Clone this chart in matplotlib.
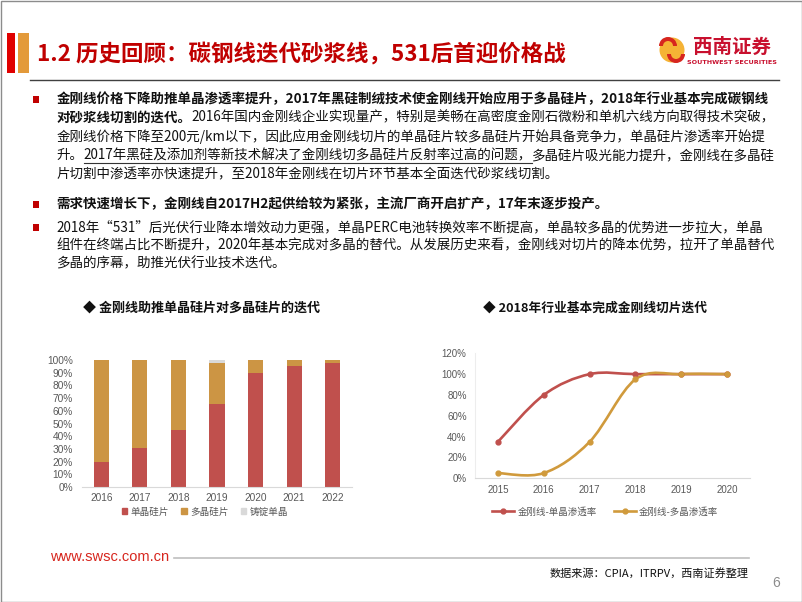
import numpy as np
import matplotlib
matplotlib.use("Agg")
import matplotlib.pyplot as plt
from matplotlib.path import Path
from matplotlib.patches import PathPatch, Rectangle, Circle, Wedge, Patch
from matplotlib.lines import Line2D

CJK = ['Noto Sans CJK SC', 'DejaVu Sans']
plt.rcParams['font.family'] = CJK

# bar chart data (share of wafer type)
bar_years = ['2016', '2017', '2018', '2019', '2020', '2021', '2022']
mono = [20, 31, 45, 65, 90, 95, 98]
multi = [80, 69, 55, 33, 10, 5, 2]
cast = [0, 0, 0, 2, 0, 0, 0]
bar_labels = ['单晶硅片', '多晶硅片', '铸锭单晶']

# line chart data (diamond wire penetration)
line_years = ['2015', '2016', '2017', '2018', '2019', '2020']
pen_mono = [35, 80, 100, 100, 100, 100]
pen_multi = [5, 5, 35, 95, 100, 100]
line_labels = ['金刚线-单晶渗透率', '金刚线-多晶渗透率']

RED = '#C0504D'
GOLD = '#CC9544'
GOLD_LINE = '#D09A3C'
GRAY = '#D9D9D9'
TICK = '#595959'
DARKRED = '#C00000'

fig = plt.figure(figsize=(8.02, 6.02), dpi=100)
fig.patch.set_facecolor('white')

# overlay in pixel coordinates
ov = fig.add_axes([0, 0, 1, 1])
ov.set_xlim(0, 802)
ov.set_ylim(602, 0)
ov.axis('off')

# outer frame
ov.add_patch(Rectangle((0.5, 0.5), 801, 601, fill=False, ec='#8C8C8C', lw=1))

# title bars + title
ov.add_patch(Rectangle((7, 33), 8, 40, color='#E00000', lw=0))
ov.add_patch(Rectangle((18, 33), 11, 40, color='#E39A3A', lw=0))
ov.text(37, 54, '1.2 历史回顾：碳钢线迭代砂浆线，531后首迎价格战', fontsize=16.2,
        weight='bold', color=DARKRED, va='center', ha='left')
ov.plot([30, 779], [80, 80], color='#404040', lw=1)

# logo
ov.add_patch(Circle((672, 50), 12.5, color='#F5B335', lw=0))
ov.add_patch(Wedge((668, 46), 9, 180, 360, width=4, color='#D7261E', lw=0))
ov.add_patch(Wedge((676, 54), 9, 0, 180, width=4, color='#D7261E', lw=0))
ov.text(732, 47, '西南证券', fontsize=14, weight='bold', color='#C8102E',
        ha='center', va='center')
ov.text(732, 63, 'SOUTHWEST SECURITIES', fontsize=4.6, weight='bold',
        color='#C8102E', ha='center', va='center', family='DejaVu Sans')

fig.canvas.draw()
rend = fig.canvas.get_renderer()

FS = 9.72
TX = 56.5


def runs(y, parts):
    x = TX
    for s, bold, ul in parts:
        t = ov.text(x, y, s, fontsize=FS, weight='bold' if bold else 'normal',
                    color='#111111', va='center', ha='left')
        bb = t.get_window_extent(renderer=rend)
        if ul:
            ov.plot([x, x + bb.width], [y + 8, y + 8], color='#333333', lw=0.8)
        x += bb.width


def bullet(y):
    ov.add_patch(Rectangle((32.5, y - 3.5), 6, 7, color=DARKRED, lw=0))


bullet(99)
runs(99, [('金刚线价格下降助推单晶渗透率提升，2017年黑硅制绒技术使金刚线开始应用于多晶硅片，2018年行业基本完成碳钢线', True, False)])
runs(117.8, [('对砂浆线切割的迭代。', True, False),
             ('2016年国内金刚线企业实现量产，特别是美畅在高密度金刚石微粉和单机六线方向取得技术突破，', False, False)])
runs(136.6, [('金刚线价格下降至200元/km以下，因此应用金刚线切片的单晶硅片较多晶硅片开始具备竞争力，单晶硅片渗透率开始提', False, False)])
runs(155.4, [('升。', False, False),
             ('2017年黑硅及添加剂等新技术解决了金刚线切多晶硅片反射率过高的问题，', False, True),
             ('多晶硅片吸光能力提升，金刚线在多晶硅', False, False)])
runs(174.2, [('片切割中渗透率亦快速提升，至2018年金刚线在切片环节基本全面迭代砂浆线切割。', False, False)])

bullet(204)
runs(204, [('需求快速增长下，金刚线自2017H2起供给较为紧张，主流厂商开启扩产，17年末逐步投产。', True, False)])

bullet(227)
runs(227, [('2018年“531”后光伏行业降本增效动力更强，单晶PERC电池转换效率不断提高，单晶较多晶的优势进一步拉大，单晶', False, False)])
runs(245, [('组件在终端占比不断提升，2020年基本完成对多晶的替代。从发展历史来看，金刚线对切片的降本优势，拉开了单晶替代', False, False)])
runs(263, [('多晶的序幕，助推光伏行业技术迭代。', False, False)])

# chart titles
ov.text(83, 308, '◆ 金刚线助推单晶硅片对多晶硅片的迭代', fontsize=9.4, weight='bold',
        color='#111111', va='center', ha='left')
ov.text(483, 308, '◆ 2018年行业基本完成金刚线切片迭代', fontsize=9.2, weight='bold',
        color='#111111', va='center', ha='left')

# footer
ov.text(50, 557, 'www.swsc.com.cn', fontsize=10.5, color='#D7261E', va='center',
        ha='left', family='Liberation Sans')
ov.plot([174, 749], [558, 558], color='#BFBFBF', lw=1.2)
ov.text(749, 573, '数据来源：CPIA，ITRPV，西南证券整理', fontsize=8, style='italic',
        color='#111111', va='center', ha='right')
ov.text(776, 583, '6', fontsize=10, color='#8C8C8C', va='center', ha='center',
        family='Liberation Sans')


def px_axes(l, t, r, b):
    return [l / 802, 1 - b / 602, (r - l) / 802, (b - t) / 602]


# ---- stacked bar chart
ax1 = fig.add_axes(px_axes(82, 360, 352, 487))
ax1.patch.set_alpha(0)
xb = np.arange(len(bar_years))
ax1.bar(xb, mono, 0.39, color=RED, label=bar_labels[0])
ax1.bar(xb, multi, 0.39, bottom=mono, color=GOLD, label=bar_labels[1])
ax1.bar(xb, cast, 0.39, bottom=np.add(mono, multi), color=GRAY, label=bar_labels[2])
ax1.set_xlim(-0.5, 6.5)
ax1.set_ylim(0, 100)
ax1.set_yticks(range(0, 101, 10))
ax1.set_yticklabels([f'{v}%' for v in range(0, 101, 10)])
ax1.set_xticks(xb)
ax1.set_xticklabels(bar_years)
for s in ['top', 'right', 'left']:
    ax1.spines[s].set_visible(False)
ax1.spines['bottom'].set_color(GRAY)
ax1.tick_params(length=0, colors=TICK, labelsize=7.3)
ax1.tick_params(axis='y', pad=6.5)
ax1.tick_params(axis='x', pad=4.5)
for lab in ax1.get_xticklabels() + ax1.get_yticklabels():
    lab.set_family('Liberation Sans')
hb = [Patch(color=c) for c in (RED, GOLD, GRAY)]
fig.legend(hb, bar_labels, loc='center', bbox_to_anchor=(205 / 802, 1 - 512 / 602),
           ncol=3, frameon=False, fontsize=6.9, handlelength=0.55, handleheight=0.55,
           handletextpad=0.35, columnspacing=1.3, labelcolor=TICK)


# ---- line chart
def smooth(xs, ys):
    pts = list(zip(xs, ys))
    n = len(pts)
    verts = [pts[0]]
    codes = [Path.MOVETO]
    for i in range(n - 1):
        p0 = pts[max(i - 1, 0)]
        p1 = pts[i]
        p2 = pts[i + 1]
        p3 = pts[min(i + 2, n - 1)]
        c1 = (p1[0] + (p2[0] - p0[0]) / 6, p1[1] + (p2[1] - p0[1]) / 6)
        c2 = (p2[0] - (p3[0] - p1[0]) / 6, p2[1] - (p3[1] - p1[1]) / 6)
        verts += [c1, c2, p2]
        codes += [Path.CURVE4] * 3
    return Path(verts, codes)


ax2 = fig.add_axes(px_axes(475, 353.3, 750, 478.3))
ax2.patch.set_alpha(0)
xl = np.arange(len(line_years))
for ys, c in ((pen_mono, RED), (pen_multi, GOLD_LINE)):
    ax2.add_patch(PathPatch(smooth(xl, ys), fill=False, ec=c, lw=1.9, capstyle='round'))
    ax2.plot(xl, ys, 'o', color=c, ms=3.5)
ax2.set_xlim(-0.5, 5.5)
ax2.set_ylim(0, 120)
ax2.set_yticks(range(0, 121, 20))
ax2.set_yticklabels([f'{v}%' for v in range(0, 121, 20)])
ax2.set_xticks(xl)
ax2.set_xticklabels(line_years)
for s in ['top', 'right']:
    ax2.spines[s].set_visible(False)
ax2.spines['bottom'].set_color(GRAY)
ax2.spines['left'].set_color('#EDEDED')
ax2.tick_params(length=0, colors=TICK, labelsize=7.0)
ax2.tick_params(axis='y', pad=6)
ax2.tick_params(axis='x', pad=5)
for lab in ax2.get_xticklabels() + ax2.get_yticklabels():
    lab.set_family('Liberation Sans')
hl = [Line2D([], [], color=RED, lw=1.9, marker='o', ms=3.5),
      Line2D([], [], color=GOLD_LINE, lw=1.9, marker='o', ms=3.5)]
fig.legend(hl, line_labels, loc='center', bbox_to_anchor=(605 / 802, 1 - 512 / 602),
           ncol=2, frameon=False, fontsize=6.8, handlelength=2.4,
           handletextpad=0.3, columnspacing=1.8, labelcolor=TICK)

fig.savefig('out.png', dpi=100)
